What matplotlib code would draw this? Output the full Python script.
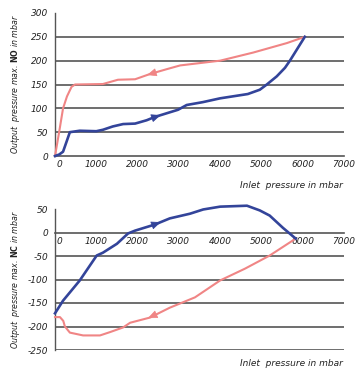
import numpy as np
import matplotlib
matplotlib.use("Agg")
import matplotlib.pyplot as plt
from matplotlib.transforms import ScaledTranslation

# ---- data ----
x_ticks = [0, 1000, 2000, 3000, 4000, 5000, 6000, 7000]

# Top chart (NO)
no_yticks = [0, 50, 100, 150, 200, 250, 300]
no_blue_x = [0, 100, 195, 300, 360, 600, 1000, 1160, 1400, 1650, 1940, 2220, 2420, 2980, 3190, 3580, 4000, 4670, 4960, 5130, 5370, 5570, 5690, 6050]
no_blue_y = [0, 3, 9, 35, 50, 53, 52, 55, 62, 67, 68, 75, 82, 97, 107, 113, 121, 130, 139, 150, 167, 185, 200, 250]
no_pink_x = [0, 100, 195, 290, 400, 485, 1160, 1525, 1940, 2300, 2700, 3030, 4000, 4800, 5620, 6050]
no_pink_y = [0, 50, 100, 125, 145, 150, 151, 160, 161, 172, 182, 190, 200, 217, 237, 250]

# Bottom chart (NC)
nc_yticks = [-250, -200, -150, -100, -50, 0, 50]
nc_blue_x = [0, 195, 600, 1010, 1160, 1500, 1770, 1940, 2420, 2780, 3270, 3590, 4000, 4650, 4960, 5200, 5520, 5830]
nc_blue_y = [-172, -145, -102, -49, -43, -24, -2, 4, 17, 30, 40, 49, 55, 57, 47, 36, 10, -13]
nc_pink_x = [0, 120, 200, 240, 360, 680, 1090, 1330, 1650, 1820, 2300, 2780, 3390, 4000, 4600, 5200, 5830]
nc_pink_y = [-180, -180, -188, -200, -213, -219, -219, -212, -202, -192, -181, -160, -138, -102, -77, -49, -13]

no_ylabel = r"Output  pressure max. $\mathbf{NO}$ in mbar"
nc_ylabel = r"Output  pressure max. $\mathbf{NC}$ in mbar"
xlabel = "Inlet  pressure in mbar"

BLUE = "#33449a"
PINK = "#f08585"
GRID = "#555555"
FS = 6.5

fig = plt.figure(figsize=(3.58, 3.72), dpi=100)
ax1 = fig.add_axes([55/358, 1-156/372, 289/358, 143/372])
ax2 = fig.add_axes([55/358, 1-350/372, 289/358, 141/372])


def style(ax, yticks, grid_vals):
    ax.set_xlim(0, 7000)
    ax.set_ylim(yticks[0], yticks[-1])
    for s in ["top", "right"]:
        ax.spines[s].set_visible(False)
    ax.spines["left"].set_color(GRID)
    ax.spines["left"].set_linewidth(1.0)
    ax.spines["bottom"].set_position(("data", 0))
    ax.spines["bottom"].set_color(GRID)
    ax.spines["bottom"].set_linewidth(1.2)
    for g in grid_vals:
        ax.axhline(g, color=GRID, lw=1.2, zorder=1)
    ax.set_yticks(yticks)
    ax.set_yticklabels([str(v) for v in yticks], fontsize=FS, style="italic", color="#222222")
    ax.set_xticks(x_ticks)
    ax.set_xticklabels([str(v) for v in x_ticks], fontsize=FS, style="italic", color="#222222")
    ax.tick_params(axis="both", length=0)
    ax.tick_params(axis="y", pad=5)
    ax.tick_params(axis="x", pad=3)
    lbl = ax.get_xticklabels()[0]
    lbl.set_transform(lbl.get_transform() + ScaledTranslation(4/100, 0, fig.dpi_scale_trans))


def arrow(ax, xs, ys, xa, direction, color):
    ya = np.interp(xa, xs, ys)
    dx = 220 * direction
    yb = np.interp(xa - dx, xs, ys)
    ax.annotate("", xy=(xa, ya), xytext=(xa - dx, yb),
                arrowprops=dict(arrowstyle="-|>,head_length=0.75,head_width=0.32", color=color, lw=0.5,
                                mutation_scale=8, shrinkA=0, shrinkB=0), zorder=4)


style(ax1, no_yticks, [50, 100, 150, 200, 250])
ax1.plot(no_pink_x, no_pink_y, color=PINK, lw=1.5, zorder=3, clip_on=False)
ax1.plot(no_blue_x, no_blue_y, color=BLUE, lw=1.9, zorder=3, clip_on=False)
arrow(ax1, no_pink_x, no_pink_y, 2230, -1, PINK)
arrow(ax1, no_blue_x, no_blue_y, 2560, 1, BLUE)
ax1.set_ylabel(no_ylabel, fontsize=5.7, style="italic", labelpad=6, color="#222222")
fig.text(343/358, 1-185/372, xlabel, ha="right", va="center", fontsize=FS, style="italic", color="#222222")

style(ax2, nc_yticks, [-250, -200, -150, -100, -50])
ax2.plot(nc_pink_x, nc_pink_y, color=PINK, lw=1.5, zorder=3, clip_on=False)
ax2.plot(nc_blue_x, nc_blue_y, color=BLUE, lw=1.9, zorder=3, clip_on=False)
arrow(ax2, nc_pink_x, nc_pink_y, 2250, -1, PINK)
arrow(ax2, nc_blue_x, nc_blue_y, 2560, 1, BLUE)
ax2.set_ylabel(nc_ylabel, fontsize=5.7, style="italic", labelpad=4, color="#222222")
fig.text(343/358, 1-364/372, xlabel, ha="right", va="center", fontsize=FS, style="italic", color="#222222")

fig.savefig("out.png", dpi=100)
